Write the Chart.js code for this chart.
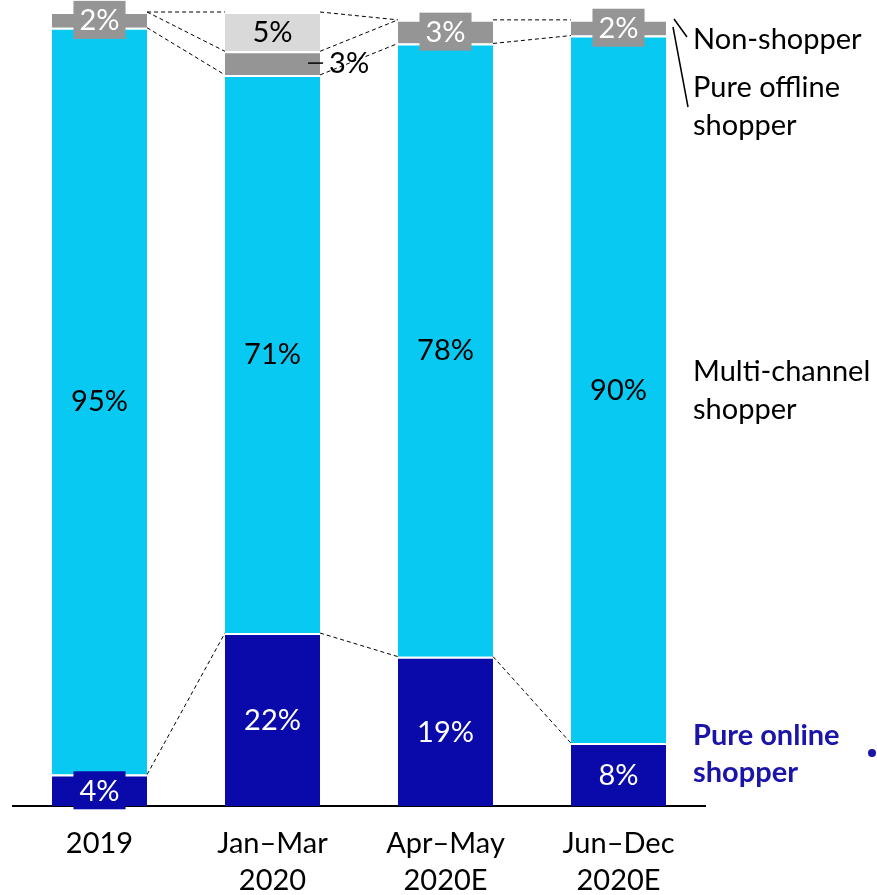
<!DOCTYPE html>
<html>
<head>
<meta charset="utf-8">
<script src="https://cdn.jsdelivr.net/npm/chart.js@4/dist/chart.umd.min.js"></script>
<style>
  html, body { margin: 0; padding: 0; background: #fff; }
  #wrap { width: 877px; height: 895px; position: relative; }
</style>
</head>
<body>
<div id="wrap"><canvas id="c" width="877" height="895"></canvas></div>
<script>
// Shopper mix by period (% of consumers)
const categories = ['2019', ['Jan–Mar', '2020'], ['Apr–May', '2020E'], ['Jun–Dec', '2020E']];
const pureOnline   = [4, 22, 19, 8];
const multiChannel = [95, 71, 78, 90];
const pureOffline  = [2, 3, 3, 2];
const nonShopper   = [0, 5, 0, 0];

const FONT = 'Lato, "Open Sans", sans-serif';
const FS = 29;
const C_ONLINE = '#0A0AAA';
const C_MULTI = '#08C9F2';
const C_OFFLINE = '#959595';
const C_NON = '#D9D9D9';

// value labels, segment connectors and series captions
const annotate = {
  id: 'annotate',
  afterDatasetsDraw(chart) {
    const ctx = chart.ctx;
    const metas = [0, 1, 2, 3].map(i => chart.getDatasetMeta(i));
    const n = categories.length;

    // dashed connectors between neighbouring bars
    ctx.save();
    ctx.strokeStyle = '#000';
    ctx.lineWidth = 1;
    ctx.setLineDash([4, 3]);
    const edge = i => {
      const b = metas[0].data[i];
      return { l: b.x - b.width / 2, r: b.x + b.width / 2 };
    };
    const bounds = {
      top: i => metas[3].data[i].y,
      offTop: i => metas[2].data[i].y,
      offBottom: i => metas[2].data[i].base,
      onlineTop: i => metas[0].data[i].y
    };
    for (let i = 0; i < n - 1; i++) {
      const keys = ['top', 'onlineTop', 'offBottom'];
      if (nonShopper[i] > 0 || nonShopper[i + 1] > 0) keys.push('offTop');
      keys.forEach(k => {
        const a = edge(i), b = edge(i + 1);
        ctx.beginPath();
        ctx.moveTo(a.r, bounds[k](i));
        ctx.lineTo(b.l, bounds[k](i + 1));
        ctx.stroke();
      });
    }
    ctx.restore();

    // value labels
    const textColors = ['#fff', '#000', '#fff', '#000'];
    const fills = [C_ONLINE, C_MULTI, C_OFFLINE, C_NON];
    ctx.save();
    ctx.font = FS + 'px ' + FONT;
    ctx.textAlign = 'center';
    ctx.textBaseline = 'middle';
    metas.forEach((meta, d) => {
      const data = chart.data.datasets[d].data;
      meta.data.forEach((bar, i) => {
        const v = data[i];
        if (!v) return;
        const txt = v + '%';
        const cy = (bar.y + bar.base) / 2;
        const h = bar.base - bar.y;
        if (d === 2 && nonShopper[i] > 0) {
          // squeezed segment: label outside with a short leader
          const right = bar.x + bar.width / 2;
          ctx.save();
          ctx.strokeStyle = '#000';
          ctx.lineWidth = 1.5;
          ctx.beginPath();
          ctx.moveTo(right - 12, cy);
          ctx.lineTo(right + 3, cy);
          ctx.stroke();
          ctx.fillStyle = '#000';
          ctx.textAlign = 'left';
          ctx.fillText(txt, right + 9, cy + 1);
          ctx.restore();
          return;
        }
        if (h < 34) {
          const w = ctx.measureText(txt).width + 12;
          const bh = 38;
          ctx.fillStyle = fills[d];
          ctx.fillRect(bar.x - w / 2, cy - bh / 2, w, bh);
        }
        ctx.fillStyle = textColors[d];
        ctx.fillText(txt, bar.x, cy + 1);
      });
    });
    ctx.restore();

    // series captions on the right
    ctx.save();
    ctx.font = FS + 'px ' + FONT;
    ctx.textAlign = 'left';
    ctx.textBaseline = 'middle';
    ctx.fillStyle = '#000';
    const tx = 693;
    ctx.fillText('Non-shopper', tx, 40);
    ctx.fillText('Pure offline', tx, 88);
    ctx.fillText('shopper', tx, 126);
    ctx.fillText('Multi-channel', tx, 372);
    ctx.fillText('shopper', tx, 410);
    ctx.fillStyle = '#1A14A8';
    ctx.font = 'bold ' + FS + 'px ' + FONT;
    ctx.fillText('Pure online', tx, 736);
    ctx.fillText('shopper', tx, 773);
    ctx.beginPath();
    ctx.arc(872, 753, 4, 0, Math.PI * 2);
    ctx.fill();
    // caption leader lines
    ctx.strokeStyle = '#000';
    ctx.lineWidth = 1.5;
    ctx.beginPath();
    ctx.moveTo(674, 19); ctx.lineTo(687, 37);
    ctx.moveTo(673, 27); ctx.lineTo(688, 107);
    ctx.stroke();
    ctx.restore();
  }
};

const seg = (label, data, color) => ({
  label, data,
  backgroundColor: color,
  borderColor: '#fff',
  borderWidth: { top: 2, left: 0, right: 0, bottom: 0 },
  borderSkipped: false,
  barPercentage: 0.55,
  categoryPercentage: 1.0
});

new Chart(document.getElementById('c'), {
  type: 'bar',
  data: {
    labels: categories,
    datasets: [
      seg('Pure online shopper', pureOnline, C_ONLINE),
      seg('Multi-channel shopper', multiChannel, C_MULTI),
      seg('Pure offline shopper', pureOffline, C_OFFLINE),
      seg('Non-shopper', nonShopper, C_NON)
    ]
  },
  options: {
    responsive: false,
    animation: false,
    devicePixelRatio: 1,
    layout: { padding: { left: 13, right: 172, top: 12, bottom: 0 } },
    plugins: { legend: { display: false }, tooltip: { enabled: false } },
    scales: {
      x: {
        stacked: true,
        grid: { display: false, drawTicks: false },
        border: { display: true, color: '#000', width: 2 },
        ticks: {
          color: '#000',
          padding: 19,
          font: { family: FONT, size: FS, lineHeight: 1.28 },
          maxRotation: 0,
          autoSkip: false
        },
        afterFit(scale) { scale.height = 89; }
      },
      y: {
        stacked: true,
        display: false,
        min: 0,
        max: 101
      }
    }
  },
  plugins: [annotate]
});
</script>
</body>
</html>
